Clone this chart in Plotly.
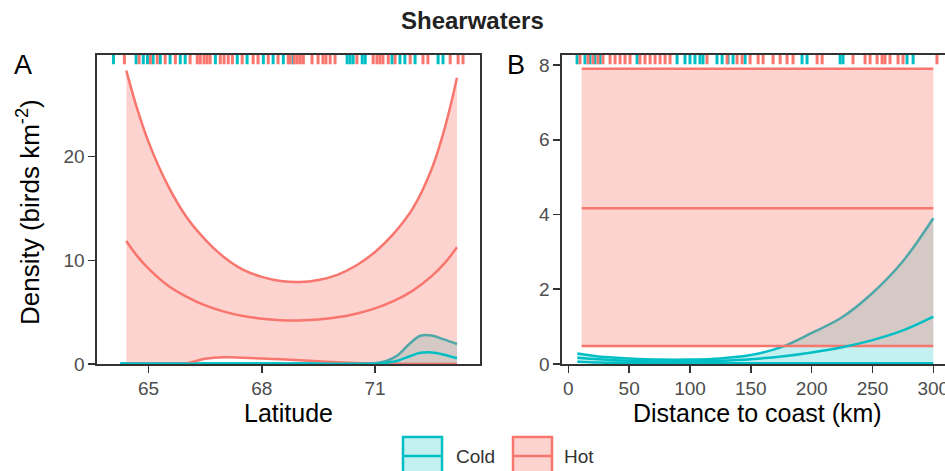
import plotly.graph_objects as go

# ---------------- data ----------------
HOT = "#F8766D"
COLD = "#00BFC4"
HOT_FILL = "rgba(248,118,109,0.32)"
COLD_FILL = "rgba(0,191,196,0.23)"

# Panel A: latitude
lat_hot = [64.41, 64.7, 65.0, 65.5, 66.0, 66.5, 67.0, 67.5, 68.0, 68.5, 69.0, 69.5,
           70.0, 70.5, 71.0, 71.5, 72.0, 72.5, 72.85, 73.17]
hot_a_mean = [11.86, 10.4, 9.2, 7.6, 6.5, 5.65, 5.05, 4.62, 4.36, 4.23, 4.2, 4.29,
              4.5, 4.85, 5.36, 6.08, 7.08, 8.47, 9.75, 11.25]
hot_a_upper = [28.3, 24.6, 21.4, 17.3, 14.2, 12.0, 10.3, 9.1, 8.4, 8.0, 7.9, 8.1,
               8.6, 9.5, 10.8, 12.6, 15.0, 18.8, 22.8, 27.6]
hot_a_lower = [0, 0, 0, 0, 0.06, 0.5, 0.65, 0.6, 0.53, 0.45, 0.36, 0.26,
               0.17, 0.09, 0.02, 0, 0, 0, 0, 0]

lat_cold = [64.25, 65.0, 66.0, 67.0, 68.0, 69.0, 70.0, 70.6, 71.0, 71.3, 71.6, 71.9,
            72.2, 72.5, 72.8, 73.17]
cold_a_mean = [0.03, 0.03, 0.02, 0.02, 0.02, 0.02, 0.02, 0.02, 0.04, 0.12, 0.32, 0.72,
               1.08, 1.12, 0.92, 0.55]
cold_a_upper = [0.06, 0.05, 0.04, 0.04, 0.04, 0.04, 0.04, 0.04, 0.08, 0.3, 0.85, 1.9,
                2.72, 2.75, 2.4, 1.93]
cold_a_lower = [0, 0, 0, 0, 0, 0, 0, 0, 0, 0, 0, 0, 0, 0, 0, 0]

# Panel B: distance to coast (km)
dist_hot = [11.0, 300.0]
hot_b_mean = [4.17, 4.17]
hot_b_upper = [7.9, 7.9]
hot_b_lower = [0.48, 0.48]

dist_cold = [7.4, 25, 50, 75, 100, 125, 150, 175, 200, 225, 250, 275, 300]
cold_b_mean = [0.17, 0.13, 0.09, 0.07, 0.07, 0.09, 0.13, 0.2, 0.31, 0.45, 0.64, 0.9, 1.27]
cold_b_upper = [0.28, 0.2, 0.15, 0.12, 0.12, 0.15, 0.24, 0.45, 0.83, 1.25, 1.9, 2.75, 3.9]
cold_b_lower = [0.06, 0.04, 0.03, 0.02, 0.02, 0.02, 0.02, 0.02, 0.02, 0.02, 0.02, 0.02, 0.02]

# rug observations
rug_a_cold = [64.07, 64.67, 64.86, 64.97, 65.12, 65.31, 65.57, 65.84, 65.97, 66.77, 67.35,
              67.61, 68.04, 68.30, 68.57, 68.83, 70.26, 70.34, 70.42, 70.66, 70.74, 71.45,
              71.66, 71.79, 72.06, 72.67, 72.80]
rug_a_hot = [64.36, 64.75, 65.05, 65.23, 65.44, 65.71, 66.10, 66.29, 66.37, 66.47, 66.55,
             66.63, 66.90, 67.00, 67.11, 67.22, 67.48, 67.77, 67.90, 68.17, 68.43, 68.70,
             68.75, 68.86, 68.94, 69.02, 69.10, 69.33, 69.49, 69.62, 69.70, 69.81, 69.94,
             70.52, 70.95, 71.05, 71.13, 71.21, 71.35, 71.53, 71.93, 72.27, 72.40, 72.99,
             73.20, 73.33]
rug_b_cold = [7.2, 13.7, 17.8, 21.9, 26.1, 56.5, 89.4, 95.9, 100.0, 104.1, 108.2, 110.7,
              122.2, 126.4, 131.3, 135.4, 145.3, 192.1, 196.2, 223.4, 225.8, 278.4, 283.4]
rug_b_hot = [9.6, 16.2, 20.3, 24.4, 28.5, 34.3, 38.4, 42.5, 46.6, 50.7, 58.9, 63.0, 67.2,
             71.3, 75.4, 79.5, 83.6, 114.0, 130.5, 138.7, 142.8, 149.4, 156.0, 160.1, 168.3,
             174.1, 179.8, 184.7, 204.5, 208.6, 234.0, 243.9, 248.0, 253.8, 257.9, 260.3,
             264.4, 271.0, 275.1, 303.0]

lat_ticks = [65, 68, 71]
dens_a_ticks = [0, 10, 20]
dist_ticks = [0, 50, 100, 150, 200, 250, 300]
dens_b_ticks = [0, 2, 4, 6, 8]

FONT = "Liberation Sans, Arial, sans-serif"
LW = 2.5

fig = go.Figure()


def ribbon(x, lo, hi, color, fill, xa, ya):
    fig.add_trace(go.Scatter(x=x, y=lo, mode="lines", line=dict(width=0, shape="spline"),
                             xaxis=xa, yaxis=ya, showlegend=False, hoverinfo="skip"))
    fig.add_trace(go.Scatter(x=x, y=hi, mode="lines", fill="tonexty", fillcolor=fill,
                             line=dict(width=0, shape="spline"),
                             xaxis=xa, yaxis=ya, showlegend=False, hoverinfo="skip"))
    for yy in (lo, hi):
        fig.add_trace(go.Scatter(x=x, y=yy, mode="lines",
                                 line=dict(width=LW, color=color, shape="spline"),
                                 xaxis=xa, yaxis=ya, showlegend=False, hoverinfo="skip"))


def mean_line(x, y, color, xa, ya):
    fig.add_trace(go.Scatter(x=x, y=y, mode="lines",
                             line=dict(width=LW, color=color, shape="spline"),
                             xaxis=xa, yaxis=ya, showlegend=False, hoverinfo="skip"))


def rug(vals, color, xa, ya):
    xs, ys = [], []
    for v in vals:
        xs += [v, v, None]
        ys += [0.97, 1.0, None]
    fig.add_trace(go.Scatter(x=xs, y=ys, mode="lines", line=dict(width=3, color=color),
                             xaxis=xa, yaxis=ya, showlegend=False, hoverinfo="skip"))


# Panel A
ribbon(lat_cold, cold_a_lower, cold_a_upper, COLD, COLD_FILL, "x", "y")
ribbon(lat_hot, hot_a_lower, hot_a_upper, HOT, HOT_FILL, "x", "y")
mean_line(lat_cold, cold_a_mean, COLD, "x", "y")
mean_line(lat_hot, hot_a_mean, HOT, "x", "y")
rug(rug_a_cold, COLD, "x", "y3")
rug(rug_a_hot, HOT, "x", "y3")

# Panel B
ribbon(dist_cold, cold_b_lower, cold_b_upper, COLD, COLD_FILL, "x2", "y2")
ribbon(dist_hot, hot_b_lower, hot_b_upper, HOT, HOT_FILL, "x2", "y2")
mean_line(dist_cold, cold_b_mean, COLD, "x2", "y2")
mean_line(dist_hot, hot_b_mean, HOT, "x2", "y2")
rug(rug_b_cold, COLD, "x2", "y4")
rug(rug_b_hot, HOT, "x2", "y4")

W, H = 945, 471
ydom = [107 / H, 416 / H]
axis_common = dict(showgrid=False, zeroline=False, showline=True, linecolor="#333333",
                   linewidth=1.6, ticks="outside", ticklen=7, tickwidth=1.6,
                   tickcolor="#333333", tickfont=dict(family=FONT, size=19, color="#4D4D4D"),
                   automargin=False, fixedrange=True, ticklabeloverflow="allow")

fig.update_layout(
    width=W, height=H, autosize=False,
    margin=dict(l=0, r=0, t=0, b=0),
    paper_bgcolor="white", plot_bgcolor="white",
    showlegend=False,
    xaxis=dict(domain=[97 / W, 480 / W], range=[63.634, 73.78], tickvals=lat_ticks,
               anchor="y", mirror=True, **axis_common),
    yaxis=dict(domain=ydom, range=[0, 29.8], tickvals=dens_a_ticks, anchor="x",
               mirror=True, **axis_common),
    xaxis2=dict(domain=[562 / W, 1.0], range=[-5.2, 309.6], tickvals=dist_ticks,
                anchor="y2", mirror=True, **axis_common),
    yaxis2=dict(domain=ydom, range=[0, 8.27], tickvals=dens_b_ticks, anchor="x2",
                mirror=False, **axis_common),
    yaxis3=dict(overlaying="y", range=[0, 1], visible=False, anchor="x", fixedrange=True),
    yaxis4=dict(overlaying="y2", range=[0, 1], visible=False, anchor="x2", fixedrange=True),
)


def px(x):
    return x / W


def py(y):
    return 1 - y / H


ann = [
    dict(text="<b>Shearwaters</b>", x=px(473), y=py(21), size=24, color="#222222"),
    dict(text="A", x=px(23), y=py(65), size=27, color="black"),
    dict(text="B", x=px(516), y=py(65), size=27, color="black"),
    dict(text="Latitude", x=px(288.5), y=py(413), size=25, color="black"),
    dict(text="Distance to coast (km)", x=px(757.5), y=py(413), size=25, color="black"),
    dict(text="Cold", x=px(475), y=py(456), size=19, color="#333333"),
    dict(text="Hot", x=px(579), y=py(456), size=19, color="#333333"),
]
for a in ann:
    fig.add_annotation(text=a["text"], x=a["x"], y=a["y"], xref="paper", yref="paper",
                       xanchor="center", yanchor="middle", showarrow=False,
                       font=dict(family=FONT, size=a["size"], color=a["color"]))
fig.add_annotation(text="Density (birds km<sup>-2</sup>)", x=px(28), y=py(212),
                   xref="paper", yref="paper", xanchor="center", yanchor="middle",
                   showarrow=False, textangle=-90,
                   font=dict(family=FONT, size=26, color="black"))

# legend keys (ggplot style boxes)
for x0, col, fcol in [(403, COLD, COLD_FILL), (513, HOT, HOT_FILL)]:
    fig.add_shape(type="rect", xref="paper", yref="paper",
                  x0=px(x0), x1=px(x0 + 39), y0=py(475), y1=py(437),
                  line=dict(color=col, width=2.5), fillcolor=fcol)
    fig.add_shape(type="line", xref="paper", yref="paper",
                  x0=px(x0), x1=px(x0 + 39), y0=py(456), y1=py(456),
                  line=dict(color=col, width=2.5))

fig.write_html("out.html",
               config={"displayModeBar": False, "staticPlot": True},
               post_script="document.body.style.margin='0';"
                           "document.body.style.overflow='hidden';")
